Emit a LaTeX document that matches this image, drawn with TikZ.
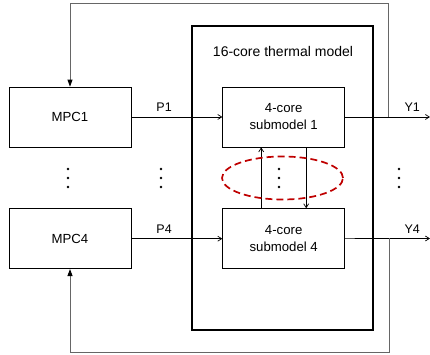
\documentclass[tikz,border=0pt]{standalone}
\usepackage{fontspec}
\setmainfont{Liberation Sans}
\usetikzlibrary{arrows.meta,positioning,calc,shapes.geometric}

\begin{document}
\begin{tikzpicture}[
  x=1pt, y=1pt, >={Straight Barb[length=4pt,width=5pt]},
  node distance=61pt and 91pt,
  box/.style={draw, line width=0.7pt, minimum width=122pt, minimum height=60pt, inner sep=0pt, align=center, font=\fontsize{13.2}{17}\selectfont},
  thermal/.style={draw, line width=1.4pt, minimum width=181pt, minimum height=304pt, inner sep=0pt},
  lbl/.style={font=\fontsize{12.5}{15}\selectfont, inner sep=2pt},
  sig/.style={draw, ->, line width=0.7pt},
  fb/.style={draw, line width=0.9pt, black!60, -{Triangle[length=7pt,width=5pt,color=black]}},
  ring/.style={draw, dashed, dash pattern=on 7pt off 4pt, line width=1.7pt, red!75!black}
]
\useasboundingbox (0,0) rectangle (430,355);

\node[thermal] (thermal) at (282.5,177) {};
\node[lbl, font=\fontsize{14}{16}\selectfont] (title) at (283,303) {16-core thermal model};

\node[box] (mpc1) at (70,238) {MPC1};
\node[box, below=of mpc1] (mpc4) {MPC4};
\node[box, right=of mpc1] (sub1) {4-core\\submodel 1};
\node[box, right=of mpc4] (sub4) {4-core\\submodel 4};

\coordinate (out1) at (430,238);
\coordinate (out4) at (430,116.5);
\coordinate (tap1) at (388,238);
\coordinate (tap4) at (389,116.5);

\draw[sig] (mpc1) -- node[lbl, above, pos=0.36, yshift=3pt]{P1} (sub1);
\draw[sig] (mpc4) -- node[lbl, above, pos=0.36, yshift=3pt]{P4} (sub4);
\draw[sig] (sub1) -- node[lbl, above, pos=0.79, yshift=3pt]{Y1} (out1);
\draw[sig] (sub4) -- node[lbl, above, pos=0.79, yshift=3pt]{Y4} (out4);

\draw[fb] (tap1) -- (tap1 |- 0,352) -| (mpc1.north);
\draw[fb] (tap4) -- (tap4 |- 0,3) -| (mpc4.south);

\draw[sig] ([xshift=-22.5pt]sub4.north) -- ([xshift=-22.5pt]sub1.south);
\draw[sig] ([xshift=22.5pt]sub1.south) -- ([xshift=22.5pt]sub4.north);

\node[ring, ellipse, minimum width=121pt, minimum height=43pt] (group) at (282.5,177) {};

\foreach \x in {68,161,279,399}
  \foreach \d in {-9,0,9}
    \fill (\x,177+\d) circle (1.3pt);
\end{tikzpicture}
\end{document}
